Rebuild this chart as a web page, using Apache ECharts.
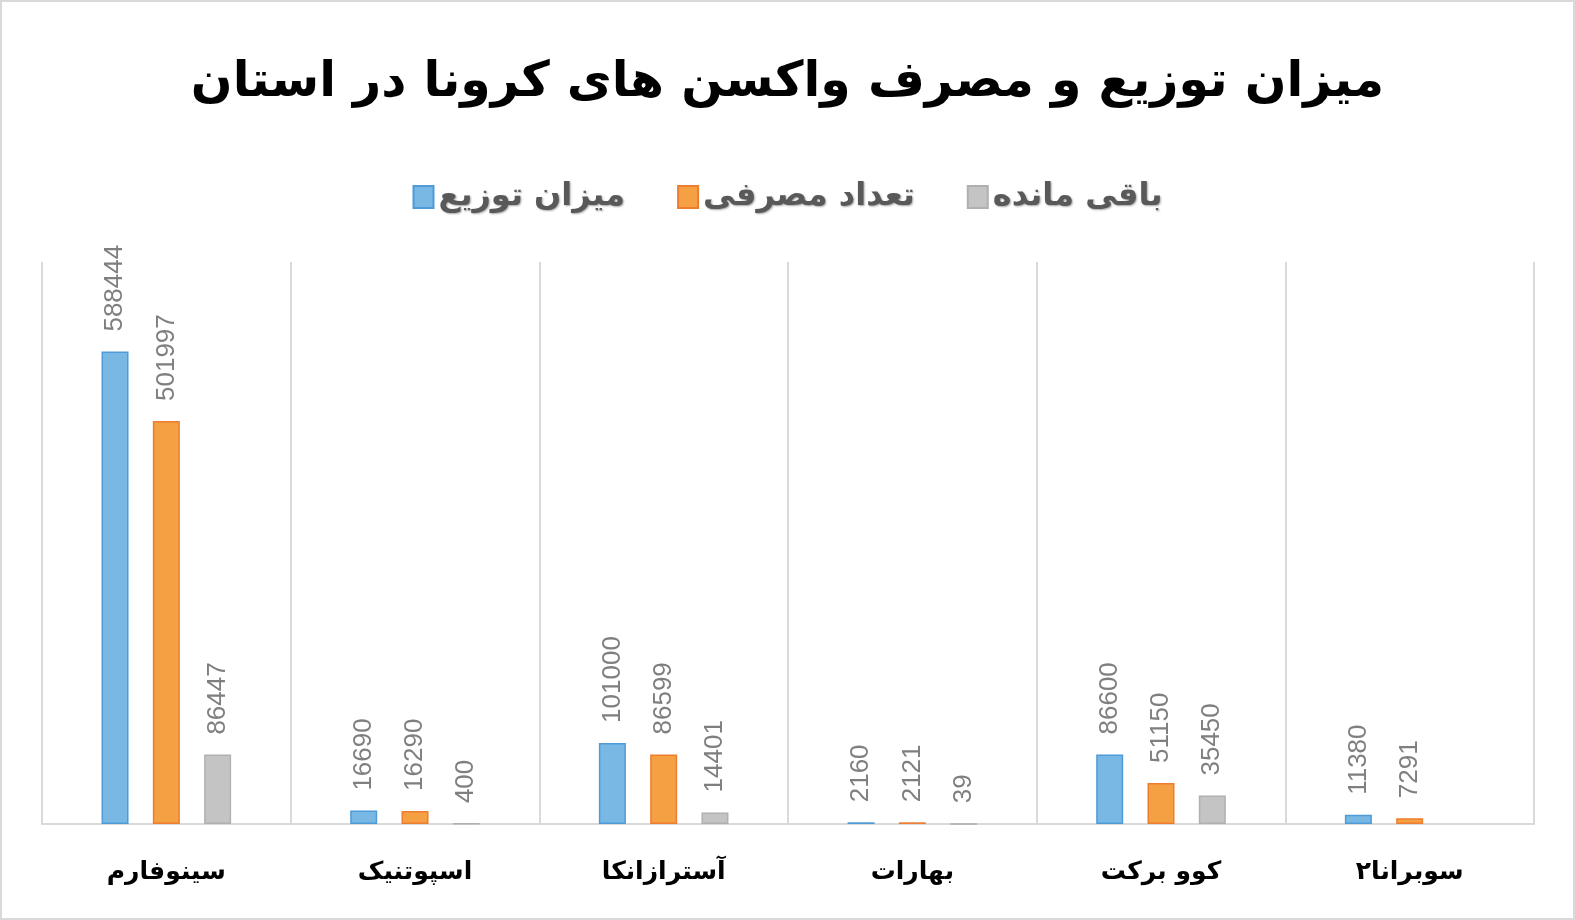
<!DOCTYPE html>
<html>
<head>
<meta charset="utf-8">
<script src="https://cdn.jsdelivr.net/npm/echarts@6/dist/echarts.min.js"></script>
<style>
  html, body { margin: 0; padding: 0; background: #fff; }
  #main { width: 1571px; height: 916px; border: 2px solid #d9d9d9; }
</style>
</head>
<body>
<div id="main"></div>
<script>
var categories = ['سینوفارم', 'اسپوتنیک', 'آسترازانکا', 'بهارات', 'کوو برکت', 'سوبرانا۲'];
var distributed = [588444, 16690, 101000, 2160, 86600, 11380];
var consumed = [501997, 16290, 86599, 2121, 51150, 7291];
var remaining = [86447, 400, 14401, 39, 35450, null];

var fontFa = "'DejaVu Sans', sans-serif";

var labelStyle = {
    show: true,
    position: 'top',
    rotate: 90,
    align: 'left',
    verticalAlign: 'middle',
    distance: 20,
    color: '#7f7f7f',
    fontSize: 26,
    fontFamily: 'Liberation Sans, Arial, sans-serif'
};

function makeSeries(name, data, fill, border) {
    return {
        name: name,
        type: 'bar',
        data: data,
        barWidth: 27,
        barGap: '90%',
        itemStyle: { color: fill, borderColor: border, borderWidth: 1.5 },
        label: labelStyle
    };
}

var option = {
    animation: false,
    title: {
        text: 'میزان توزیع و مصرف واکسن های کرونا در استان',
        left: 'center',
        top: 52,
        textStyle: { fontFamily: fontFa, fontWeight: 'bold', fontSize: 49, color: '#000' }
    },
    legend: {
        top: 174,
        left: 'center',
        itemWidth: 20,
        itemHeight: 22,
        itemGap: 52,
        icon: 'rect',
        textStyle: {
            fontFamily: fontFa, fontWeight: 'bold', fontSize: 32, color: '#595959',
            textShadowColor: 'rgba(0,0,0,0.35)', textShadowBlur: 2, textShadowOffsetX: 1, textShadowOffsetY: 1
        },
        data: ['میزان توزیع', 'تعداد مصرفی', 'باقی مانده']
    },
    grid: { left: 40, right: 39, top: 260, bottom: 94 },
    xAxis: {
        type: 'category',
        data: categories,
        axisLine: { lineStyle: { color: '#d9d9d9', width: 2 } },
        axisTick: { show: false },
        splitLine: { show: true, lineStyle: { color: '#d9d9d9', width: 2 } },
        axisLabel: { margin: 36, fontFamily: fontFa, fontWeight: 'bold', fontSize: 25, color: '#000' }
    },
    yAxis: {
        type: 'value',
        min: 0,
        max: 700000,
        show: false,
        splitLine: { show: false }
    },
    series: [
        makeSeries('میزان توزیع', distributed, '#79b8e4', '#4f9bd8'),
        makeSeries('تعداد مصرفی', consumed, '#f5a043', '#ed7d31'),
        makeSeries('باقی مانده', remaining, '#c4c4c4', '#b0b0b0')
    ]
};

var myChart = echarts.init(document.getElementById('main'));
myChart.setOption(option);
</script>
</body>
</html>
